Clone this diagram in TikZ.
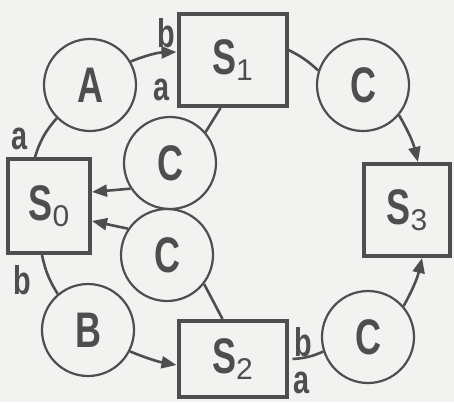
\documentclass[tikz,border=0pt]{standalone}
\usepackage{fontspec}
\newfontfamily\diagfont[FakeStretch=0.72]{Liberation Sans}
\newfontfamily\digitfont{Liberation Sans}
\usetikzlibrary{arrows.meta}
\definecolor{paperGray}{RGB}{242,242,240}
\definecolor{inkGray}{RGB}{78,78,78}
\newcommand{\stname}[1]{{\bfseries S}\raisebox{-3pt}{\digitfont\fontsize{15}{15}\selectfont #1}}

\begin{document}
\begin{tikzpicture}[
  x=0.5pt, y=-0.5pt,
  state/.style={
    draw=inkGray,
    line width=2pt,
    inner sep=0pt,
    text=inkGray,
    font=\diagfont\fontsize{25}{25}\selectfont
  },
  cond/.style={
    circle,
    draw=inkGray,
    line width=1.1pt,
    minimum size=46pt,
    inner sep=0pt,
    text=inkGray,
    font=\diagfont\bfseries\fontsize{25}{25}\selectfont
  },
  port/.style={inner sep=0pt,text=inkGray,font=\diagfont\bfseries\fontsize{20}{20}\selectfont},
  link/.style={draw=inkGray,line width=1.3pt},
  arrow/.style={link,-{Triangle[length=7.5pt,width=6pt]}}
]
  \useasboundingbox[fill=paperGray] (0,0) rectangle (454,402);

  \node[state,minimum width=41pt,minimum height=47pt] (S0) at (49,206) {\stname{0}};
  \node[state,minimum width=54pt,minimum height=46pt] (S1) at (232.5,60) {\stname{1}};
  \node[state,minimum width=54pt,minimum height=38pt] (S2) at (232.5,359) {\stname{2}};
  \node[state,minimum width=43pt,minimum height=46pt] (S3) at (407,210) {\stname{3}};

  \node[cond] (A) at (90,85) {A};
  \node[cond] (B) at (88,330) {B};
  \node[cond] (Cr) at (363,85) {C};
  \node[cond] (Cu) at (170,163) {C};
  \node[cond] (Cl) at (167,255) {C};
  \node[cond] (Cbr) at (368,337) {C};

  \draw[link] ([xshift=-7pt]S0.north) to[bend left=12] (A.225);
  \draw[arrow] (A.30) to[bend left=10] ([yshift=4pt]S1.west);
  \draw[link] ([yshift=5pt]S1.east) to[bend left=8] (Cr.162);
  \draw[arrow] (Cr.-40) to[bend left=8] ([xshift=5.5pt]S3.north);
  \draw[arrow] (Cbr.41) to[bend right=8] ([xshift=7.5pt]S3.south);
  \draw[link] ([xshift=2pt]S2.east) to[bend right=10] (Cbr.198);
  \draw[arrow] (B.-27) to[bend right=6] ([yshift=-3pt]S2.west);
  \draw[link] ([xshift=-3.5pt]S0.south) to[bend right=10] (B.130);
  \draw[arrow] (Cu.213) -- ([yshift=7pt]S0.east);
  \draw[arrow] (Cl.146) -- ([yshift=-7.5pt]S0.east);
  \draw[link] ([xshift=-6pt]S1.south) -- (Cu.41);
  \draw[link] ([xshift=-5pt]S2.north) -- (Cl.-38);

  \node[port] (s0a) at (20,139) {a};
  \node[port] (s0b) at (22,280) {b};
  \node[port] (s1b) at (166,33) {b};
  \node[port] (s1a) at (162,90) {a};
  \node[port] (s2b) at (303,342) {b};
  \node[port] (s2a) at (302,383) {a};
\end{tikzpicture}
\end{document}
